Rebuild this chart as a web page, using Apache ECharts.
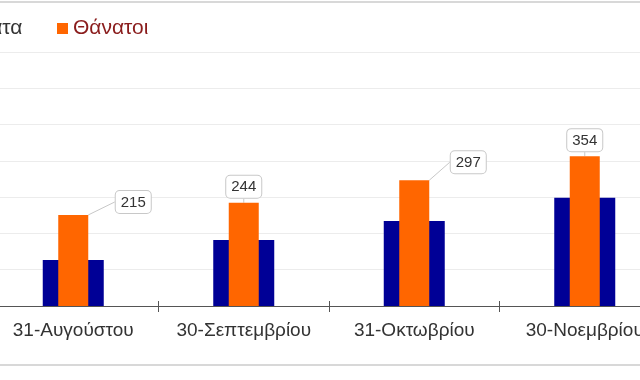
<!DOCTYPE html>
<html>
<head>
<meta charset="utf-8">
<script src="https://cdn.jsdelivr.net/npm/echarts@6/dist/echarts.min.js"></script>
<style>html,body{margin:0;padding:0;background:#fff;overflow:hidden;width:640px;height:380px}#c{width:682px;height:380px;margin-left:-12px}</style>
</head>
<body>
<div id="c"></div>
<script>
var categories = ['31-Αυγούστου', '30-Σεπτεμβρίου', '31-Οκτωβρίου', '30-Νοεμβρίου'];
var casesName = 'Κρούσματα';
var deathsName = 'Θάνατοι';
var cases = [127, 182, 234, 298];
var deaths = [215, 244, 297, 354];

var labelShift = {0: [60, 3], 1: [0, 0], 2: [54, -2], 3: [0, 0]};

var chart = echarts.init(document.getElementById('c'), null, {renderer: 'canvas'});
chart.setOption({
  animation: false,
  backgroundColor: '#fff',
  textStyle: {fontFamily: 'Liberation Sans, Arial, sans-serif'},
  legend: [
    {
      data: [{name: casesName, textStyle: {color: '#333'}}],
      left: -93, top: 13, itemWidth: 11, itemHeight: 11, itemGap: 8,
      icon: 'rect', textStyle: {fontSize: 21, fontFamily: 'Liberation Sans'}
    },
    {
      data: [{name: deathsName, textStyle: {color: '#8a1c1c'}}],
      left: 64, top: 13, itemWidth: 11, itemHeight: 11,
      icon: 'rect', textStyle: {fontSize: 21, fontFamily: 'Liberation Sans'}
    }
  ],
  grid: {left: 0, right: 0, top: 52, bottom: 74, containLabel: false},
  xAxis: [
    {
      type: 'category', data: categories,
      axisLine: {lineStyle: {color: '#555', width: 1}},
      axisTick: {show: true, length: 6, lineStyle: {color: '#555'}},
      axisLabel: {fontSize: 19, color: '#333', margin: 15, interval: 0, fontFamily: 'Liberation Sans'}
    },
    {
      type: 'category', data: categories, position: 'bottom',
      axisLine: {show: false},
      axisTick: {show: true, inside: true, length: 5, lineStyle: {color: '#555'}},
      axisLabel: {show: false}
    }
  ],
  yAxis: [
    {
      type: 'value', min: 0, max: 700, interval: 100,
      axisLabel: {show: false}, axisLine: {show: false}, axisTick: {show: false},
      splitLine: {lineStyle: {color: '#ececec', width: 1}}
    },
    {
      type: 'value', min: 0, max: 600,
      axisLabel: {show: false}, axisLine: {show: false}, axisTick: {show: false},
      splitLine: {show: false}
    }
  ],
  graphic: [
    {type: 'line', shape: {x1: 0, y1: 2, x2: 682, y2: 2}, style: {stroke: '#d8d8d8', lineWidth: 2}, silent: true},
    {type: 'line', shape: {x1: 0, y1: 365, x2: 682, y2: 365}, style: {stroke: '#d8d8d8', lineWidth: 2}, silent: true}
  ],
  series: [
    {
      name: casesName, type: 'bar', data: cases, xAxisIndex: 0, yAxisIndex: 0,
      barWidth: 61, itemStyle: {color: '#000096'}, z: 2
    },
    {
      name: deathsName, type: 'bar', data: deaths, xAxisIndex: 1, yAxisIndex: 1,
      barWidth: 30, itemStyle: {color: '#ff6600'}, z: 3,
      label: {
        show: true, position: 'top', distance: 5,
        fontSize: 15, color: '#333', fontFamily: 'Liberation Sans',
        backgroundColor: '#fff', borderColor: '#c8c8c8', borderWidth: 1, borderRadius: 4,
        padding: [4, 5, 3, 5]
      },
      labelLine: {show: true, lineStyle: {color: '#c8c8c8', width: 1}},
      labelLayout: function (p) {
        var s = labelShift[p.dataIndex] || [0, 0];
        return {dx: s[0], dy: s[1]};
      }
    }
  ]
});
</script>
</body>
</html>
